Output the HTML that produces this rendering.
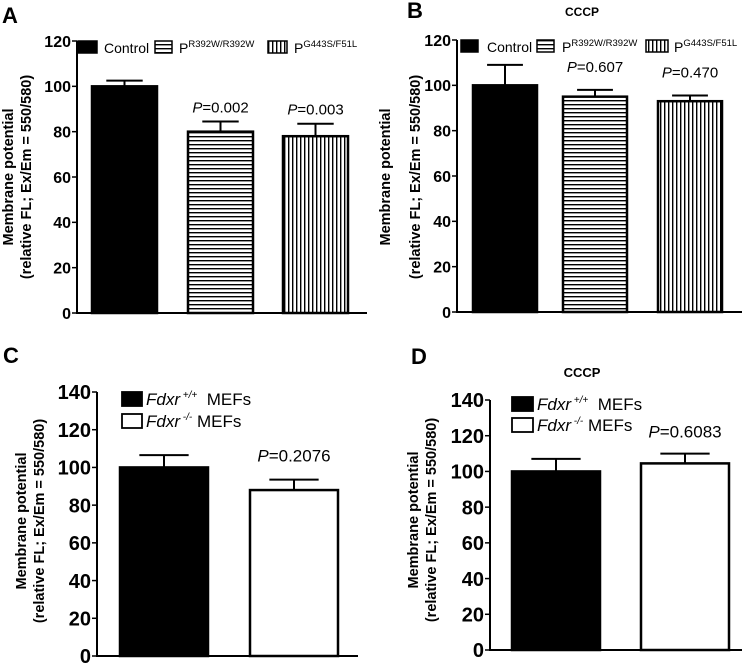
<!DOCTYPE html>
<html><head><meta charset="utf-8"><style>
html,body{margin:0;padding:0;background:#fff}
svg{display:block;font-family:"Liberation Sans",Arial,sans-serif}
</style></head><body>
<svg id="fig" width="748" height="664" viewBox="0 0 748 664" xmlns="http://www.w3.org/2000/svg">
<defs>
<pattern id="hstripe" patternUnits="userSpaceOnUse" width="6" height="4"><rect width="6" height="4" fill="#fff"/><rect y="0" width="6" height="1.4" fill="#000"/></pattern>
<pattern id="vstripe" patternUnits="userSpaceOnUse" width="4" height="6"><rect width="4" height="6" fill="#fff"/><rect x="0" width="1.4" height="6" fill="#000"/></pattern>
</defs>
<text x="2" y="23" font-size="22" font-weight="bold">A</text>
<text x="407" y="18" font-size="22" font-weight="bold">B</text>
<text x="3" y="363" font-size="22" font-weight="bold">C</text>
<text x="411" y="364" font-size="22" font-weight="bold">D</text>
<text x="582" y="16" font-size="12" font-weight="bold" text-anchor="middle">CCCP</text>
<text x="582" y="377" font-size="13" font-weight="bold" text-anchor="middle">CCCP</text>
</svg>
<script>
const valuesA = [100, 80, 78];
const errA = [2.5, 4.5, 5.5];
const pA = ["", "0.002", "0.003"];
const valuesB = [100, 95, 93];
const errB = [9, 3, 2.5];
const pB = ["", "0.607", "0.470"];
const valuesC = [100, 88];
const errC = [6.5, 5.5];
const pC = ["", "0.2076"];
const valuesD = [100, 104.5];
const errD = [7, 5.5];
const pD = ["", "0.6083"];
const ticks120 = [0, 20, 40, 60, 80, 100, 120];
const ticks140 = [0, 20, 40, 60, 80, 100, 120, 140];
const fillsABC = ["#000", "url(#hstripe)", "url(#vstripe)"];
const fillsCD = ["#000", "#fff"];

const NS = "http://www.w3.org/2000/svg";
const svg = document.getElementById('fig');
function mk(tag, attrs, parent, txt) {
  const e = document.createElementNS(NS, tag);
  for (const k in attrs) e.setAttribute(k, attrs[k]);
  if (txt !== undefined) e.textContent = txt;
  (parent || svg).appendChild(e);
  return e;
}

function panel(o) {
  const g = mk('g', {});
  
  
  const y = v => o.y0 - (v / o.max) * (o.y0 - o.yTop);
  const ax = mk('line', {x1: o.ax, y1: y(o.max), x2: o.ax, y2: o.y0, stroke: '#000', 'stroke-width': 2}, g);
  
  
  const xa = mk('line', {x1: o.ax - 1, y1: o.y0, x2: o.axEnd, y2: o.y0, stroke: '#000', 'stroke-width': 2}, g);
  
  
  o.ticks.forEach(t => {
    mk('line', {x1: o.ax - 5, y1: y(t), x2: o.ax, y2: y(t), stroke: '#000', 'stroke-width': 1.5}, g);
    const tl = mk('text', {x: o.ax - 6, y: y(t) + o.tfs * 0.36, 'font-size': o.tfs, 'font-weight': 'bold', 'text-anchor': 'end'}, g, String(t));
    
    
  });
  const tt = mk('text', {transform: `translate(${o.tx1},${o.tcy}) rotate(-90)`, 'font-size': o.yfs, 'font-weight': 'bold', 'text-anchor': 'middle'}, g, 'Membrane potential');
  
  
  const tt2 = mk('text', {transform: `translate(${o.tx2},${o.tcy}) rotate(-90)`, 'font-size': o.yfs, 'font-weight': 'bold', 'text-anchor': 'middle'}, g, '(relative FL; Ex/Em = 550/580)');
  
  
  o.vals.forEach((v, i) => {
    const x = o.barX[i], w = o.barW;
    const top = y(v), et = y(v + o.err[i]);
    const cx = x + w / 2;
    const el = mk('line', {x1: cx, y1: top, x2: cx, y2: et, stroke: '#000', 'stroke-width': 2}, g);
    
    
    const cap = mk('line', {x1: cx - w * 0.28, y1: et, x2: cx + w * 0.28, y2: et, stroke: '#000', 'stroke-width': 2}, g);
    
    
    const b = mk('rect', {x: x, y: top, width: w, height: o.y0 - top, fill: o.fills[i], stroke: '#000', 'stroke-width': 2.5}, g);
    
    
    if (o.p[i]) {
      const t = mk('text', {x: cx + o.pdx, y: et - o.pdy, 'font-size': o.pfs, 'text-anchor': 'middle'}, g);
      
      
      mk('tspan', {'font-style': 'italic'}, t, 'P');
      mk('tspan', {}, t, '=' + o.p[i]);
    }
  });
  return g;
}

function legend3(y0, pos) {
  const g = mk('g', {});
  
  
  const labels = [['Control', ''], ['P', 'R392W/R392W'], ['P', 'G443S/F51L']];
  labels.forEach((l, i) => {
    const p = pos[i];
    const r = mk('rect', {x: p[0], y: y0, width: p[1], height: 12, fill: fillsABC[i], stroke: '#000', 'stroke-width': 1.5}, g);
    
    
    const t = mk('text', {x: p[2], y: y0 + 12, 'font-size': 14}, g);
    
    
    mk('tspan', {}, t, l[0]);
    if (l[1]) mk('tspan', {dy: -6, 'font-size': 9.5}, t, l[1]);
  });
}
function legend2(x, y1, y2, w) {
  const g = mk('g', {});
  
  
  [[y1, '#000', '+/+'], [y2, '#fff', '-/-']].forEach(([yy, f, s]) => {
    const r = mk('rect', {x: x, y: yy, width: w, height: 14, fill: f, stroke: '#000', 'stroke-width': 1.8}, g);
    
    
    const t = mk('text', {x: x + w + 4, y: yy + 13, 'font-size': 17}, g);
    
    
    mk('tspan', {'font-style': 'italic'}, t, 'Fdxr');
    mk('tspan', {dy: -7, 'font-size': 10, 'font-style': 'italic'}, t, ' ' + s);
    mk('tspan', {dy: 7}, t, s === '+/+' ? '\u00a0\u00a0MEFs' : ' MEFs');
  });
}

panel({name: 'panel-a', ax: 77, axEnd: 367, y0: 313, yTop: 41, max: 120, ticks: ticks120, tfs: 16, yfs: 14.5,
  tx1: 13, tx2: 31, tcy: 177, vals: valuesA, err: errA, p: pA, fills: fillsABC,
  barX: [92, 188, 283], barW: 65, pdx: 0, pdy: 9, pfs: 15});
legend3(41, [[78, 19, 104], [155, 17, 179], [268, 19, 294]]);

panel({name: 'panel-b', ax: 457, axEnd: 742, y0: 312, yTop: 40, max: 120, ticks: ticks120, tfs: 16, yfs: 14.5,
  tx1: 390, tx2: 420, tcy: 177, vals: valuesB, err: errB, p: pB, fills: fillsABC,
  barX: [473, 563, 658], barW: 64, pdx: 0, pdy: 18, pfs: 15});
legend3(40, [[461, 17, 487], [537, 17, 562], [646, 22, 674]]);

panel({name: 'panel-c', ax: 97, axEnd: 358, y0: 656, yTop: 392, max: 140, ticks: ticks140, tfs: 20, yfs: 14.5,
  tx1: 26, tx2: 44, tcy: 521, vals: valuesC, err: errC, p: pC, fills: fillsCD,
  barX: [120, 250], barW: 88, pdx: 0, pdy: 18, pfs: 17});
legend2(122, 392, 414, 20);

panel({name: 'panel-d', ax: 490, axEnd: 742, y0: 650, yTop: 400, max: 140, ticks: ticks140, tfs: 20, yfs: 14.5,
  tx1: 418, tx2: 436, tcy: 520, vals: valuesD, err: errD, p: pD, fills: fillsCD,
  barX: [512, 641], barW: 88, pdx: 0, pdy: 16, pfs: 17});
legend2(512, 397, 418, 21);
</script>
</body></html>
